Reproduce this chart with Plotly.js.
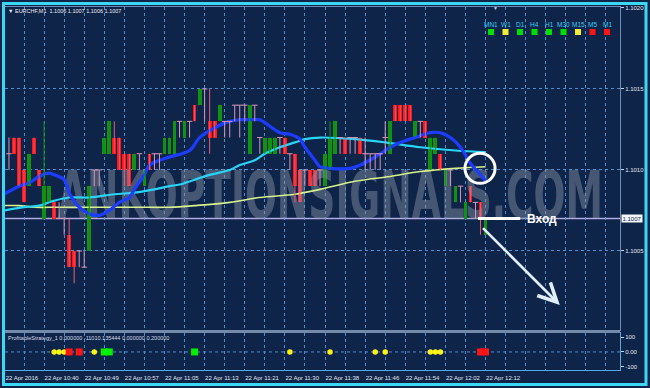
<!DOCTYPE html>
<html><head><meta charset="utf-8">
<script src="https://cdn.plot.ly/plotly-3.0.1.min.js"></script>
<style>html,body{margin:0;padding:0;background:#0e2448;}#chart{width:650px;height:388px;}</style>
</head><body><div id="chart"></div>
<script>
// ---- candles (M1 bars, index 1..96) ----
const openP  = [1.1011,1.1012,1.1012,1.1010,1.1009,1.1012,1.1010,1.1007,1.1008,1.1008,
1.1007,1.1007,1.1006,1.1005,1.1005,1.1004,1.1005,1.1010,1.1010,1.1011,
1.1011,1.1012,1.1012,1.1011,1.1011,1.1010,1.1011,1.1009,1.1011,1.1011,
1.1011,1.1011,1.1011,1.1011,1.1013,1.1012,1.1013,1.1014,1.1014,1.1015,
1.1013,1.1013,1.1013,1.1013,1.1013,1.1014,1.1014,1.1014,1.1011,1.1014,
1.1012,1.1011,1.1011,1.1011,1.1012,1.1012,1.1011,1.1011,1.1010,1.1010,
1.1010,1.1010,1.1010,1.1009,1.1010,1.1011,1.1012,1.1012,1.1012,1.1012,
1.1012,1.1011,1.1011,1.1011,1.1011,1.1012,1.1011,1.1014,1.1014,1.1014,
1.1014,1.1012,1.1013,1.1013,1.1010,1.1011,1.1011,1.1009,1.1010,1.1008,
1.1009,1.1007,1.1009,1.1008,1.1008,1.1006];
const highP  = [1.1012,1.1012,1.1012,1.1010,1.1011,1.1012,1.1010,1.1013,1.1009,1.1008,
1.1008,1.1007,1.1007,1.1005,1.1005,1.1005,1.1009,1.1010,1.1010,1.1012,
1.1013,1.1013,1.1012,1.1011,1.1011,1.1011,1.1011,1.1010,1.1011,1.1011,
1.1011,1.1012,1.1012,1.1013,1.1013,1.1013,1.1013,1.1014,1.1015,1.1015,
1.1015,1.1013,1.1014,1.1013,1.1013,1.1014,1.1014,1.1014,1.1014,1.1014,
1.1012,1.1012,1.1012,1.1012,1.1012,1.1012,1.1011,1.1011,1.1010,1.1010,
1.1010,1.1010,1.1010,1.1011,1.1013,1.1013,1.1012,1.1012,1.1012,1.1012,
1.1012,1.1012,1.1011,1.1011,1.1011,1.1013,1.1013,1.1014,1.1014,1.1014,
1.1014,1.1013,1.1013,1.1013,1.1012,1.1012,1.1011,1.1010,1.1010,1.1009,
1.1009,1.1008,1.1009,1.1008,1.1008,1.1007];
const lowP   = [1.1010,1.1011,1.1009,1.1008,1.1009,1.1011,1.1009,1.1007,1.1008,1.1007,
1.1007,1.1006,1.1004,1.1003,1.1004,1.1004,1.1005,1.1009,1.1009,1.1011,
1.1011,1.1011,1.1010,1.1009,1.1009,1.1010,1.1010,1.1009,1.1010,1.1010,
1.1010,1.1011,1.1011,1.1011,1.1012,1.1012,1.1012,1.1013,1.1014,1.1013,
1.1011,1.1012,1.1013,1.1012,1.1012,1.1013,1.1012,1.1013,1.1011,1.1013,
1.1011,1.1011,1.1011,1.1011,1.1011,1.1011,1.1010,1.1008,1.1008,1.1009,
1.1009,1.1009,1.1009,1.1009,1.1010,1.1011,1.1011,1.1011,1.1011,1.1011,
1.1011,1.1010,1.1010,1.1010,1.1010,1.1011,1.1011,1.1013,1.1013,1.1013,
1.1013,1.1012,1.1012,1.1012,1.1010,1.1011,1.1010,1.1009,1.1009,1.1008,
1.1008,1.1007,1.1008,1.1007,1.1006,1.1006];
const closeP = [1.1011,1.1011,1.1009,1.1008,1.1011,1.1011,1.1009,1.1009,1.1009,1.1007,
1.1007,1.1007,1.1004,1.1004,1.1005,1.1004,1.1009,1.1010,1.1010,1.1012,
1.1013,1.1011,1.1010,1.1010,1.1009,1.1011,1.1011,1.1010,1.1010,1.1011,
1.1011,1.1012,1.1012,1.1013,1.1013,1.1013,1.1013,1.1013,1.1015,1.1015,
1.1012,1.1012,1.1014,1.1013,1.1013,1.1014,1.1014,1.1014,1.1014,1.1014,
1.1012,1.1012,1.1012,1.1012,1.1012,1.1011,1.1011,1.1009,1.1008,1.1010,
1.1009,1.1009,1.1010,1.1011,1.1012,1.1013,1.1012,1.1011,1.1012,1.1012,
1.1011,1.1011,1.1011,1.1011,1.1011,1.1012,1.1013,1.1013,1.1013,1.1013,
1.1013,1.1013,1.1013,1.1012,1.1012,1.1012,1.1010,1.1010,1.1010,1.1009,
1.1009,1.1008,1.1008,1.1008,1.1007,1.1007];

// ---- moving averages (sampled bars) ----
const fastIdx = [0,3,5,7,9,10,12,13,15,17,19,21,23,25,26,28,29,31,33,37,39,42,45,47,49,51,53,55,57,59,60,62,63,65,69,71,74,77,79,82,85,87,89,91,93,95,96];
const fastVal = [1.10085,1.10090,1.10092,1.10096,1.10098,1.10097,1.10094,1.10086,1.10077,1.10073,1.10072,1.10075,1.10080,1.10083,1.10088,1.10097,1.10103,1.10106,1.10108,1.10112,1.10120,1.10126,1.10130,1.10131,1.10131,1.10131,1.10127,1.10123,1.10122,1.10119,1.10114,1.10106,1.10102,1.10101,1.10101,1.10103,1.10108,1.10114,1.10117,1.10120,1.10123,1.10123,1.10120,1.10114,1.10104,1.10097,1.10093];
const midIdx = [0,4,7,10,13,17,22,26,30,33,35,38,41,45,47,50,52,55,58,60,63,70,76,83,90,96];
const midVal = [1.10075,1.10077,1.10078,1.10081,1.10083,1.10083,1.10085,1.10086,1.10088,1.10090,1.10091,1.10094,1.10097,1.10100,1.10103,1.10106,1.10110,1.10114,1.10117,1.10119,1.10120,1.10119,1.10117,1.10114,1.10112,1.10111];
const slowIdx = [0,3,6,11,19,27,33,38,45,51,58,63,70,77,83,90,96];
const slowVal = [1.10078,1.10078,1.10077,1.10077,1.10077,1.10077,1.10077,1.10078,1.10080,1.10083,1.10085,1.10088,1.10093,1.10096,1.10099,1.10101,1.10102];

// ---- indicator signals (all at level 0) ----
const sigYellowIdx = [10,11,12,18,57,65,74,76,85,86,87];
const sigYellowVal = [0,0,0,0,0,0,0,0,0,0,0];
const sigRedIdx = [13,15,95,96];
const sigRedVal = [0,0,0,0];
const sigGreenIdx = [20,21,38];
const sigGreenVal = [0,0,0];

// ---- ticks / labels ----
const timeTickIdx = [0.25,8,16,24,32,40,48,56,64,72,80,88,96];
const timeTickText = ['22 Apr 2016','22 Apr 10:40','22 Apr 10:49','22 Apr 10:57','22 Apr 11:05','22 Apr 11:13','22 Apr 11:21','22 Apr 11:30','22 Apr 11:38','22 Apr 11:46','22 Apr 11:54','22 Apr 12:02','22 Apr 12:12'];
const priceTicks = [1.1005,1.1010,1.1015,1.1020];
const priceTickText = ['1.1005','1.1010','1.1015','1.1020'];
const indTicks = [100,0,-100];
const indTickText = ['100','0.00','-100'];
const tfLabels = ['MN1','W1','D1','H4','H1','M30','M15','M5','M1'];
const tfColors = ['#00e000','#f2f030','#00e000','#00e000','#00e000','#00e000','#f2f030','#ff1414','#ff1414'];
const symbol = 'EURCHF,M1';
const entryPrice = 1.1007;
const entryLabel = 'Вход';
const indicatorLabel = 'ProfitableStrategy_1 0.000000 -11010.135444 0.000000 0.200000';
const watermark = 'ANKOPTIONSIGNALS.COM';

// ---- styling ----
const BG = 'rgb(14,36,72)';
const GRID = 'rgba(90,160,235,0.85)';
const GREEN = 'rgb(18,145,18)';
const RED = 'rgb(255,22,22)';
const PINK = 'rgb(215,150,185)';
const REDWICK = 'rgb(235,90,120)';
const X = px => (px - 5) / 615;
const Y = py => (370 - py) / 363;

const barIdx = openP.map((_, i) => i + 1);
const up = {x:[],b:[],h:[]}, dn = {x:[],b:[],h:[]}, dj = {x:[],y:[]};
const wk = {g:{x:[],y:[]}, r:{x:[],y:[]}, p:{x:[],y:[]}};
barIdx.forEach((x, i) => {
  const o = openP[i], h = highP[i], l = lowP[i], c = closeP[i];
  let w;
  if (c > o) { up.x.push(x); up.b.push(o); up.h.push(c - o); w = wk.g; }
  else if (c < o) { dn.x.push(x); dn.b.push(c); dn.h.push(o - c); w = wk.r; }
  else { dj.x.push(x); dj.y.push(o); w = wk.p; }
  w.x.push(x, x, null); w.y.push(l, h, null);
});

const traces = [
  {type:'scatter', mode:'text', x:[65.2], y:[1.10086], text:[watermark], textposition:'middle center',
   textfont:{family:'Liberation Sans Narrow, DejaVu Sans Condensed, Arial Narrow, sans-serif', size:50, weight:'bold', color:'rgba(140,150,170,0.45)'},
   hoverinfo:'skip', showlegend:false, xaxis:'x', yaxis:'y'},
  {type:'scatter', mode:'lines', x:slowIdx, y:slowVal, line:{color:'rgb(215,242,140)', width:1.6, shape:'spline'}, xaxis:'x', yaxis:'y'},
  {type:'scatter', mode:'lines', x:midIdx, y:midVal, line:{color:'rgb(40,212,248)', width:2.2, shape:'spline'}, xaxis:'x', yaxis:'y'},
  {type:'scatter', mode:'lines', x:fastIdx, y:fastVal, line:{color:'rgb(28,60,255)', width:3.2, shape:'spline'}, xaxis:'x', yaxis:'y'},
  {type:'scatter', mode:'lines', x:wk.g.x, y:wk.g.y, line:{color:GREEN, width:1}, xaxis:'x', yaxis:'y'},
  {type:'scatter', mode:'lines', x:wk.r.x, y:wk.r.y, line:{color:REDWICK, width:1}, xaxis:'x', yaxis:'y'},
  {type:'scatter', mode:'lines', x:wk.p.x, y:wk.p.y, line:{color:PINK, width:1}, xaxis:'x', yaxis:'y'},
  {type:'bar', x:up.x, y:up.h, base:up.b, width:0.76, marker:{color:GREEN, line:{width:0}}, xaxis:'x', yaxis:'y'},
  {type:'bar', x:dn.x, y:dn.h, base:dn.b, width:0.76, marker:{color:RED, line:{width:0}}, xaxis:'x', yaxis:'y'},
  {type:'scatter', mode:'markers', x:dj.x, y:dj.y, marker:{symbol:'line-ew', size:4, line:{color:PINK, width:1}}, xaxis:'x', yaxis:'y'},
  {type:'scatter', mode:'markers', x:sigYellowIdx, y:sigYellowVal, marker:{symbol:'circle', size:5.5, color:'rgb(255,245,20)'}, xaxis:'x2', yaxis:'y2'},
  {type:'scatter', mode:'markers', x:sigRedIdx, y:sigRedVal, marker:{symbol:'square', size:7, color:'rgb(255,20,20)'}, xaxis:'x2', yaxis:'y2'},
  {type:'scatter', mode:'markers', x:sigGreenIdx, y:sigGreenVal, marker:{symbol:'square', size:7, color:'rgb(0,240,0)'}, xaxis:'x2', yaxis:'y2'}
];

const gridIdx = [];
for (let v = 4; v <= 120; v += 4) gridIdx.push(v);
const xTickVals = [timeTickIdx[0]].concat(gridIdx);
const xTickText = xTickVals.map(v => { const k = timeTickIdx.indexOf(v); return k >= 0 ? timeTickText[k] : ''; });

const tickFont = {family:'Liberation Sans, Arial, sans-serif', size:6, color:'rgb(225,230,240)'};
const xr = [0.21, 122.8];

const shapes = [
  {type:'line', xref:'paper', x0:0, x1:1, yref:'y', y0:entryPrice, y1:entryPrice, line:{color:'rgb(175,170,225)', width:1.5}, layer:'below'},
  {type:'line', xref:'paper', x0:0, x1:1, yref:'y2', y0:0, y1:0, line:{color:GRID, width:1, dash:'dot'}, layer:'below'},
  {type:'rect', xref:'paper', yref:'paper', x0:0, x1:1, y0:Y(333), y1:Y(330), fillcolor:'rgb(115,138,172)', line:{width:0}},
  {type:'rect', xref:'paper', yref:'paper', x0:X(3.5), x1:X(646), y0:Y(384.5), y1:Y(3.5), line:{color:'rgb(60,215,245)', width:3}},
  {type:'circle', xref:'x', yref:'y', x0:91.9, x1:97.9, y0:1.10101-0.0000926, y1:1.10101+0.0000926, line:{color:'white', width:3}},
  {type:'line', xref:'x', yref:'y', x0:94.5, x1:102.9, y0:entryPrice, y1:entryPrice, line:{color:'white', width:3}}
];
const annotations = [
  {xref:'paper', yref:'paper', x:X(6), y:Y(11.5), xanchor:'left', yanchor:'middle', showarrow:false,
   text:'▼ ' + symbol + '  ' + [openP, highP, lowP, closeP].map(a => a[a.length-1].toFixed(4)).join(' '),
   font:{family:'Liberation Sans, Arial, sans-serif', size:5.5, color:'rgb(235,238,245)'}},
  {xref:'paper', yref:'paper', x:X(6), y:Y(338), xanchor:'left', yanchor:'middle', showarrow:false, text:indicatorLabel,
   font:{family:'Liberation Sans, Arial, sans-serif', size:5.5, color:'rgb(215,220,232)'}},
  {xref:'paper', yref:'paper', x:X(495), y:Y(8), xanchor:'center', yanchor:'middle', showarrow:false, text:'▼',
   font:{size:5, color:'rgb(200,210,230)'}},
  {xref:'paper', yref:'y', x:1, y:entryPrice, xanchor:'left', yanchor:'middle', xshift:1, showarrow:false, text:entryPrice.toFixed(4),
   bgcolor:'rgb(242,245,250)', borderpad:0.5, font:{family:'Liberation Sans, Arial, sans-serif', size:6, color:BG}},
  {xref:'x', yref:'y', x:103.9, y:entryPrice, xanchor:'left', yanchor:'middle', showarrow:false, text:'<b>' + entryLabel + '</b>',
   font:{family:'Liberation Sans, Arial, sans-serif', size:12, color:'white'}},
  {xref:'x', yref:'y', x:110.8, y:1.100167, axref:'x', ayref:'y', ax:95.2, ay:1.10065, text:'', showarrow:true,
   arrowhead:5, arrowsize:1.4, arrowwidth:2.6, arrowcolor:'rgb(225,238,255)'}
];
tfLabels.forEach((lab, k) => {
  const cx = 491 + 14.5 * k;
  annotations.push({xref:'paper', yref:'paper', x:X(cx), y:Y(24.5), xanchor:'center', yanchor:'middle', showarrow:false, text:lab,
    font:{family:'Liberation Sans, Arial, sans-serif', size:6.5, color:'rgb(60,205,245)'}});
  shapes.push({type:'rect', xref:'paper', yref:'paper', x0:X(cx-3), x1:X(cx+3), y0:Y(35), y1:Y(29), fillcolor:tfColors[k], line:{width:0}});
});

const layout = {
  width:650, height:388, margin:{l:5, r:30, t:7, b:18},
  paper_bgcolor:BG, plot_bgcolor:BG, showlegend:false, barmode:'overlay', bargap:0,
  font:tickFont,
  xaxis:{domain:[0,1], anchor:'y', range:xr, tickvals:xTickVals, ticktext:xTickText, showticklabels:false,
    showgrid:true, gridcolor:GRID, griddash:'dot', gridwidth:1, zeroline:false, ticks:'',
    showline:true, mirror:true, linecolor:'rgb(110,140,185)', linewidth:1},
  yaxis:{domain:[Y(330), 1], anchor:'x', range:[1.100012, 1.102006], side:'right', tickvals:priceTicks, ticktext:priceTickText,
    showgrid:true, gridcolor:GRID, griddash:'dot', gridwidth:1, zeroline:false, ticks:'outside', ticklen:3, tickcolor:'rgb(200,210,225)',
    tickfont:tickFont, showline:true, mirror:true, linecolor:'rgb(110,140,185)', linewidth:1},
  xaxis2:{domain:[0,1], anchor:'y2', matches:'x', range:xr, tickvals:xTickVals, ticktext:xTickText, showticklabels:true,
    tickangle:0, ticklabelposition:'outside right', ticklabelstandoff:2, tickfont:tickFont, ticks:'',
    showgrid:true, gridcolor:GRID, griddash:'dot', gridwidth:1, zeroline:false,
    showline:true, mirror:true, linecolor:'rgb(80,170,230)', linewidth:1},
  yaxis2:{domain:[0, Y(333)], anchor:'x2', range:[-122, 128], side:'right', tickvals:indTicks, ticktext:indTickText,
    showgrid:false, zeroline:false, ticks:'outside', ticklen:3, tickcolor:'rgb(200,210,225)', tickfont:tickFont,
    showline:true, mirror:true, linecolor:'rgb(80,170,230)', linewidth:1},
  shapes:shapes, annotations:annotations
};

Plotly.newPlot('chart', traces, layout, {staticPlot:true, displayModeBar:false}).then(gd => {
  const g = gd.querySelector('.scatterlayer .trace .textpoint');
  if (!g) return;
  const t = g.querySelector('text');
  const bb = t.getBBox();
  const fs = 50;
  const base = bb.y + 0.905 * fs;
  const cx = bb.x + bb.width / 2;
  const sx = 545 / bb.width;
  const sy = 47 / (0.716 * fs);
  const targetCx = 330.5 - 5, targetBase = 217 - 7;
  g.setAttribute('transform', `translate(${targetCx - sx * cx},${targetBase - sy * base}) scale(${sx},${sy})`);
});
</script>
</body></html>
